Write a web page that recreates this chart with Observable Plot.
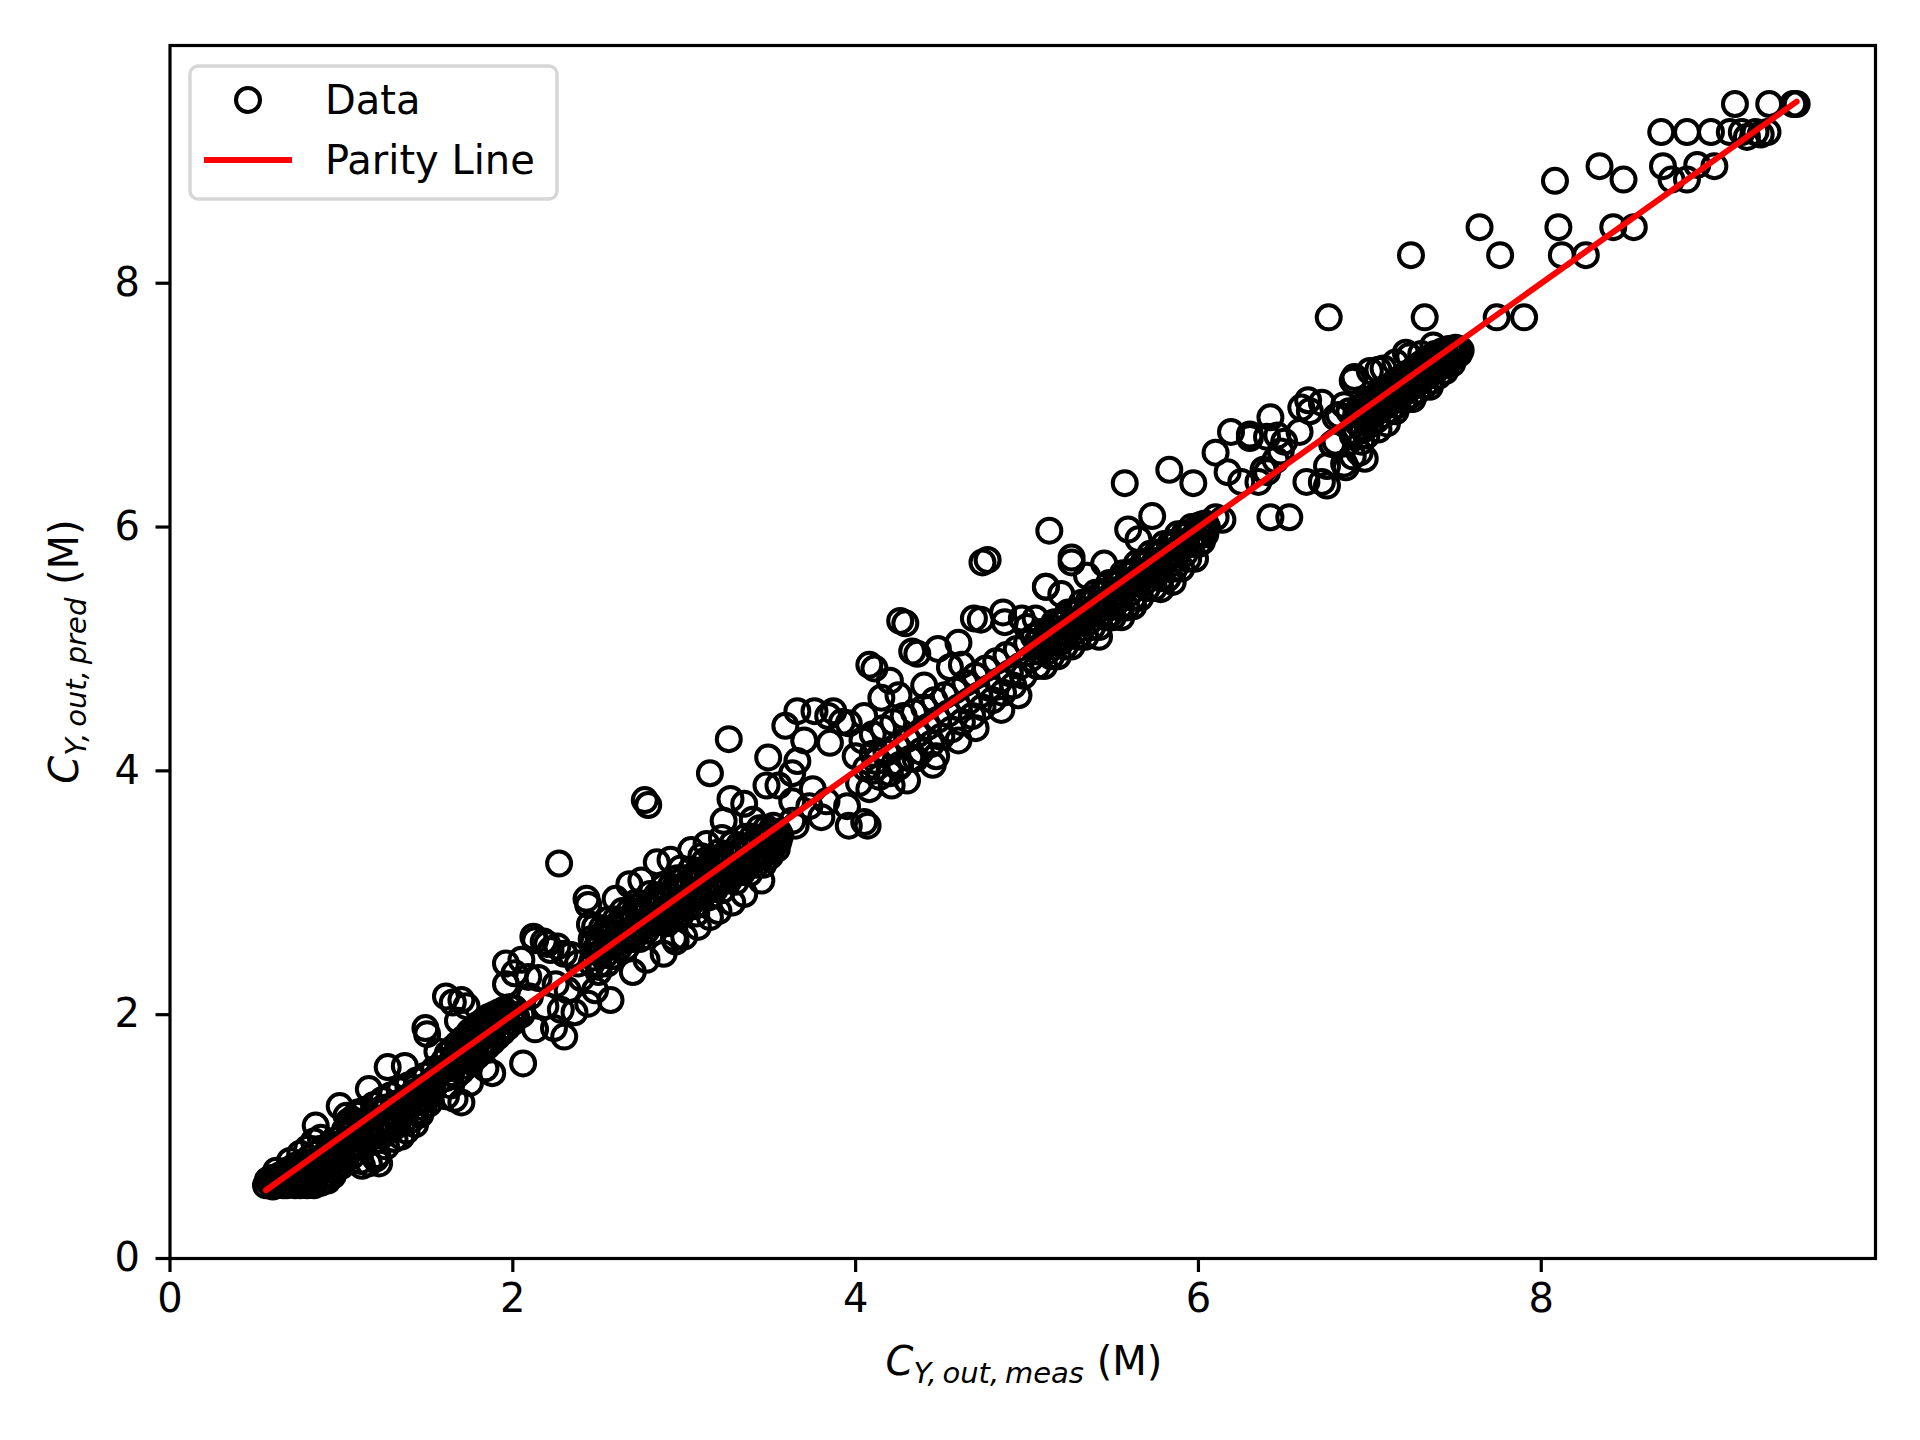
<!DOCTYPE html>
<html><head><meta charset="utf-8">
<script src="https://cdn.jsdelivr.net/npm/d3@7"></script>
<script src="https://cdn.jsdelivr.net/npm/@observablehq/plot@0.6"></script>
<style>html,body{margin:0;padding:0;background:#fff;overflow:hidden;} #chart{width:1920px;height:1440px;} #chart svg{display:block;}</style>
</head><body><div id="chart"></div>
<script>
const clusterLow = [[0.56,0.60],[0.58,0.62],[0.60,0.59],[0.61,0.65],[0.63,0.61],[0.64,0.68],[0.66,0.63],[0.67,0.70],[0.68,0.60],[0.69,0.66],[0.70,0.73],[0.71,0.62],[0.72,0.68],[0.73,0.76],[0.74,0.64],[0.75,0.71],[0.76,0.60],[0.77,0.78],[0.78,0.67],[0.79,0.73],[0.80,0.62],[0.81,0.82],[0.82,0.70],[0.83,0.76],[0.84,0.64],[0.85,0.86],[0.86,0.72],[0.87,0.80],[0.88,0.66],[0.89,0.90],[0.90,0.75],[0.91,0.84],[0.92,0.69],[0.93,0.93],[0.94,0.78],[0.95,0.87],[0.96,0.72],[0.97,0.97],[0.98,0.82],[0.99,0.91],[1.00,0.76],[0.62,0.72],[0.70,0.80],[0.76,0.86],[0.80,0.90],[0.84,0.96],[0.88,0.99],[0.66,0.60],[0.73,0.60],[0.80,0.60],[0.84,0.60],[0.88,0.62],[0.92,0.64],[0.95,0.68],[0.85,1.09],[0.99,1.25],
  [0.57,0.64],[0.59,0.66],[0.62,0.62],[0.64,0.64],[0.65,0.66],[0.67,0.65],[0.68,0.72],[0.70,0.68],[0.72,0.64],[0.73,0.71],[0.75,0.66],[0.76,0.74],[0.78,0.70],[0.79,0.64],[0.80,0.78],[0.82,0.74],[0.83,0.68],[0.85,0.80],[0.86,0.68],[0.87,0.76],[0.89,0.72],[0.90,0.84],[0.92,0.79],[0.93,0.74],[0.95,0.92],[0.96,0.82],[0.98,0.88],[0.99,0.78],[1.00,0.94]];
const clusterOne = [[1.01,0.95],[1.02,1.05],[1.03,0.88],[1.04,1.12],[1.05,0.98],[1.06,0.84],[1.07,1.08],[1.08,0.93],[1.09,1.18],[1.10,1.02],[1.11,0.80],[1.12,1.12],[1.13,0.97],[1.14,1.22],[1.15,1.06],[1.16,0.78],[1.17,1.16],[1.18,1.00],[1.19,1.26],[1.20,1.10],[1.21,0.85],[1.22,1.20],[1.23,1.04],[1.24,1.30],[1.25,1.14],[1.26,0.92],[1.27,1.24],[1.28,1.08],[1.29,1.34],[1.30,1.18],[1.31,0.98],[1.32,1.27],[1.33,1.12],[1.34,1.38],[1.35,1.00],[1.36,1.22],[1.37,1.31],[1.38,1.05],[1.39,1.42],[1.40,1.26],[1.41,1.14],[1.42,1.36],[1.43,1.10],[1.44,1.46],[1.45,1.30],[1.46,1.18],[1.47,1.40],[1.48,1.24],[1.49,1.50],[1.50,1.34],[1.51,1.27],[1.52,1.44],[1.53,1.38],[1.54,1.55],[1.12,0.76],[1.20,0.82],[1.22,0.78],[1.16,1.39],[1.27,1.57],[1.37,1.58],[1.03,1.17],[1.10,1.20],[1.06,1.14],
  [1.02,0.96],[1.05,1.02],[1.08,1.00],[1.11,1.06],[1.14,1.04],[1.17,1.10],[1.20,1.06],[1.23,1.14],[1.26,1.12],[1.29,1.20],[1.32,1.18],[1.35,1.26],[1.38,1.24],[1.41,1.30],[1.44,1.28],[1.47,1.36],[1.50,1.42],[1.53,1.46],[1.56,1.50],[1.07,0.90],[1.13,0.92],[1.19,0.96],[1.25,1.02],[1.31,1.08],[1.37,1.14],[1.43,1.20],[1.49,1.30]];
const clusterTwo = [[1.58,1.55],[1.60,1.62],[1.61,1.48],[1.62,1.68],[1.63,1.56],[1.64,1.42],[1.65,1.72],[1.66,1.60],[1.67,1.50],[1.68,1.76],[1.69,1.64],[1.70,1.54],[1.71,1.80],[1.72,1.68],[1.73,1.58],[1.74,1.84],[1.75,1.72],[1.76,1.62],[1.77,1.88],[1.78,1.76],[1.79,1.66],[1.80,1.92],[1.81,1.80],[1.82,1.70],[1.83,1.95],[1.84,1.84],[1.85,1.74],[1.86,1.98],[1.87,1.88],[1.88,1.78],[1.89,2.00],[1.90,1.91],[1.91,1.82],[1.92,2.02],[1.93,1.94],[1.94,1.86],[1.95,2.04],[1.96,1.97],[1.97,1.90],[1.98,2.06],[1.99,2.00],[2.00,1.94],[2.01,2.05],[2.02,1.98],[1.66,1.31],[1.61,1.33],[1.70,1.28],[1.75,1.44],[1.88,1.52],[2.06,1.60],[1.84,1.56],[1.50,1.84],[1.49,1.89],[1.61,2.15],[1.65,2.10],[1.70,2.12],[1.73,2.07],[1.75,1.86],[1.68,1.95],[1.56,1.70],
  [1.62,1.58],[1.66,1.66],[1.69,1.70],[1.72,1.74],[1.75,1.78],[1.78,1.82],[1.81,1.86],[1.84,1.90],[1.87,1.94],[1.90,1.97],[1.93,2.00],[1.96,2.02],[1.64,1.52],[1.70,1.62],[1.76,1.68],[1.82,1.76],[1.88,1.84],[1.94,1.90],[2.00,2.00]];
const sparseTwo = [[1.96,2.42],[2.01,2.34],[1.96,2.25],[2.09,2.31],[2.13,2.61],[2.20,2.58],[2.26,2.56],[2.30,2.50],[2.34,2.49],[2.27,3.24],[2.44,2.90],[2.13,1.88],[2.24,1.89],[2.19,2.07],[2.28,2.04],[2.36,2.02],[2.44,2.09],[2.57,2.12],[2.12,2.64],[2.18,2.60],[2.22,2.53],[2.43,2.95],[2.45,2.74],[2.05,2.45],[2.10,2.15],[2.32,2.20],[2.40,2.30],[2.38,2.42],[2.15,2.30],[2.25,2.25],[2.50,2.35],[2.48,2.20],[2.55,2.42],[2.30,1.82],[2.05,2.00]];
const clusterThree = [[2.46,2.42],[2.46,2.62],[2.48,2.53],[2.48,2.72],[2.50,2.41],[2.50,2.60],[2.52,2.52],[2.52,2.71],[2.54,2.49],[2.54,2.69],[2.56,2.59],[2.56,2.78],[2.58,2.48],[2.58,2.67],[2.60,2.59],[2.60,2.78],[2.62,2.55],[2.62,2.75],[2.64,2.66],[2.64,2.85],[2.66,2.55],[2.66,2.74],[2.68,2.66],[2.68,2.85],[2.70,2.62],[2.70,2.82],[2.72,2.73],[2.72,2.92],[2.74,2.62],[2.74,2.81],[2.76,2.72],[2.76,2.91],[2.78,2.69],[2.78,2.89],[2.80,2.80],[2.80,2.99],[2.82,2.68],[2.82,2.87],[2.84,2.79],[2.84,2.98],[2.86,2.76],[2.86,2.96],[2.88,2.86],[2.88,3.05],[2.90,2.75],[2.90,2.94],[2.92,2.86],[2.92,3.05],[2.94,2.83],[2.94,3.03],[2.96,2.93],[2.96,3.12],[2.98,2.82],[2.98,3.01],[3.00,2.93],[3.00,3.12],[3.02,2.89],[3.02,3.09],[3.04,3.00],[3.04,3.19],[3.06,2.89],[3.06,3.08],[3.08,2.99],[3.08,3.18],[3.10,2.96],[3.10,3.16],[3.12,3.07],[3.12,3.26],[3.14,2.96],[3.14,3.15],[3.16,3.06],[3.16,3.25],[3.18,3.03],[3.18,3.23],[3.20,3.14],[3.20,3.33],[3.22,3.02],[3.22,3.21],[3.24,3.13],[3.24,3.32],[3.26,3.10],[3.26,3.30],[3.28,3.21],[3.28,3.40],[3.30,3.09],[3.30,3.28],[3.32,3.20],[3.32,3.39],[3.34,3.17],[3.34,3.37],[3.36,3.27],[3.36,3.46],[3.38,3.16],[3.38,3.35],[3.40,3.27],[3.40,3.46],[3.42,3.23],[3.42,3.43],[3.44,3.34],[3.44,3.53],[3.46,3.23],[3.46,3.42],[3.48,3.34],[3.48,3.53],[3.50,3.30],[3.50,3.50],[3.52,3.41],[3.52,3.55],[3.54,3.36],[3.54,3.49],
  [2.47,2.47],[2.47,2.59],[2.51,2.50],[2.51,2.64],[2.55,2.55],[2.55,2.66],[2.59,2.57],[2.59,2.71],[2.63,2.60],[2.63,2.74],[2.67,2.64],[2.67,2.78],[2.71,2.67],[2.71,2.81],[2.75,2.71],[2.75,2.85],[2.79,2.74],[2.79,2.88],[2.83,2.77],[2.83,2.91],[2.87,2.81],[2.87,2.95],[2.91,2.84],[2.91,2.98],[2.95,2.88],[2.95,3.02],[2.99,2.91],[2.99,3.05],[3.03,2.94],[3.03,3.08],[3.07,2.98],[3.07,3.12],[3.11,3.01],[3.11,3.15],[3.15,3.05],[3.15,3.19],[3.19,3.08],[3.19,3.22],[3.23,3.11],[3.23,3.25],[3.27,3.15],[3.27,3.29],[3.31,3.18],[3.31,3.32],[3.35,3.22],[3.35,3.36],[3.39,3.25],[3.39,3.39],[3.43,3.28],[3.43,3.42],[3.47,3.32],[3.47,3.46],[3.51,3.35],[3.51,3.49],[3.55,3.42],[3.55,3.50],[3.53,3.45],[3.56,3.47]];
const sparseThree = [[2.68,3.07],[2.84,3.25],[2.92,3.27],[3.04,3.35],[3.13,3.40],[2.77,3.76],[2.79,3.72],[3.15,3.98],[3.26,4.26],[3.23,3.59],[3.27,3.77],[3.35,3.73],[3.48,3.88],[2.88,2.50],[3.00,2.64],[3.15,2.80],[3.35,2.99],[2.70,2.35],[2.78,2.45],[2.95,2.60],[3.08,2.72],[3.20,2.85],[3.28,2.92],[3.45,3.10],[2.60,2.95],[2.75,3.10],[2.98,3.20],[3.10,3.30],[3.22,3.45],[3.40,3.60],[3.07,2.83],[2.94,2.63]];
const clusterFour = [[4.00,4.12],[4.02,3.90],[4.04,4.25],[4.06,4.02],[4.08,3.85],[4.10,4.30],[4.12,4.08],[4.14,3.95],[4.16,4.35],[4.18,4.15],[4.20,3.98],[4.22,4.40],[4.24,4.20],[4.26,4.05],[4.28,4.45],[4.30,4.26],[4.32,4.10],[4.34,4.48],[4.36,4.30],[4.38,4.16],[4.40,4.52],[4.42,4.36],[4.44,4.22],[4.46,4.58],[4.48,4.42],[4.50,4.28],[4.52,4.62],[4.54,4.47],[4.56,4.34],[4.58,4.66],[4.60,4.52],[4.62,4.40],[4.64,4.72],[4.66,4.57],[4.68,4.45],[4.70,4.78],[4.72,4.62],[4.74,4.52],[4.76,4.84],[4.78,4.68],[4.80,4.58],[4.82,4.90],[4.84,4.74],[4.86,4.64],[4.88,4.95],[4.90,4.80],[4.92,4.70],[4.94,5.00],[4.96,4.86],[4.98,4.78],[5.00,5.05],[5.02,4.92],[5.04,5.10],[5.06,4.98],[4.15,4.60],[4.05,4.45],[4.25,4.62],[4.40,4.70],[4.55,4.85],[4.45,4.05],[4.60,4.25],[4.70,4.35],[4.85,4.50],[4.95,4.62],[4.30,3.92],[4.21,3.88]];
const sparseFour = [[4.74,5.71],[5.26,5.71],[4.26,5.23],[5.11,5.51],[4.69,5.25],[4.86,5.30],[4.87,5.22],[4.97,5.25],[4.08,4.87],[4.33,4.98],[4.20,4.74],[4.48,5.00],[4.60,5.05],[4.62,4.87],[3.66,4.49],[3.59,4.37],[3.76,4.49],[3.84,4.45],[3.92,4.40],[3.70,4.25],[3.49,4.11],[3.63,3.98],[3.55,3.88],[3.63,3.75],[3.63,3.59],[3.83,3.75],[4.05,3.58],[3.80,3.62],[3.75,3.85],[4.10,4.00],[4.25,4.03],[4.35,4.10],[4.47,4.12],[3.85,4.23],[3.96,4.39],[3.87,4.49],[4.10,4.14],[3.95,3.71],[3.96,3.55],[4.07,3.55],[3.73,3.71],[3.65,3.55],[3.66,4.08],[4.11,4.84],[4.29,5.21],[4.36,4.96],[4.73,5.24],[4.77,5.73]];
const clusterFive = [[5.06,4.86],[5.06,5.06],[5.08,4.98],[5.08,5.14],[5.10,4.86],[5.10,5.05],[5.12,4.98],[5.12,5.15],[5.14,4.94],[5.14,5.14],[5.16,5.06],[5.16,5.22],[5.18,4.94],[5.18,5.13],[5.20,5.06],[5.20,5.23],[5.22,5.02],[5.22,5.22],[5.24,5.14],[5.24,5.30],[5.26,5.02],[5.26,5.21],[5.28,5.14],[5.28,5.31],[5.30,5.10],[5.30,5.30],[5.32,5.22],[5.32,5.38],[5.34,5.10],[5.34,5.29],[5.36,5.22],[5.36,5.39],[5.38,5.18],[5.38,5.38],[5.40,5.30],[5.40,5.46],[5.42,5.18],[5.42,5.37],[5.44,5.30],[5.44,5.47],[5.46,5.26],[5.46,5.46],[5.48,5.38],[5.48,5.54],[5.50,5.26],[5.50,5.45],[5.52,5.38],[5.52,5.55],[5.54,5.34],[5.54,5.54],[5.56,5.46],[5.56,5.62],[5.58,5.34],[5.58,5.53],[5.60,5.46],[5.60,5.63],[5.62,5.42],[5.62,5.62],[5.64,5.54],[5.64,5.70],[5.66,5.42],[5.66,5.61],[5.68,5.54],[5.68,5.71],[5.70,5.50],[5.70,5.70],[5.72,5.62],[5.72,5.78],[5.74,5.50],[5.74,5.69],[5.76,5.62],[5.76,5.79],[5.78,5.58],[5.78,5.78],[5.80,5.70],[5.80,5.86],[5.82,5.58],[5.82,5.77],[5.84,5.70],[5.84,5.87],[5.86,5.66],[5.86,5.86],[5.88,5.78],[5.88,5.94],[5.90,5.66],[5.90,5.85],[5.92,5.78],[5.92,5.95],[5.94,5.74],[5.94,5.94],[5.96,5.86],[5.96,6.00],[5.98,5.74],[5.98,5.93],[6.00,5.86],[6.00,6.01],[6.02,5.88],[6.02,6.02],[6.04,5.94],[6.04,6.03],
  [5.09,5.02],[5.13,5.06],[5.17,5.12],[5.21,5.14],[5.25,5.20],[5.29,5.22],[5.33,5.28],[5.37,5.30],[5.41,5.36],[5.45,5.38],[5.49,5.44],[5.53,5.46],[5.57,5.52],[5.61,5.54],[5.65,5.60],[5.69,5.62],[5.73,5.68],[5.77,5.70],[5.81,5.76],[5.85,5.78],[5.89,5.84],[5.93,5.86],[5.97,5.92],[6.01,5.95],[6.05,6.00]];
const sparseFive = [[5.13,5.97],[5.26,5.75],[5.11,5.51],[5.57,6.36],[5.83,6.47],[5.97,6.36],[5.59,5.98],[5.73,6.09],[6.10,6.08],[5.55,5.26],[5.48,5.28],[5.62,5.35],[5.78,5.49],[5.85,5.55],[5.20,5.45],[5.35,5.60],[5.45,5.70],[5.65,5.90],[5.05,5.25],[5.00,5.18],[5.30,5.11],[5.42,5.10],[5.18,5.05],[6.14,6.06]];
const sparseSix = [[6.42,6.08],[6.53,6.08],[6.25,6.37],[6.35,6.37],[6.63,6.37],[6.72,6.37],[6.10,6.61],[6.17,6.45],[6.19,6.78],[6.30,6.76],[6.40,6.74],[6.42,6.90],[6.60,6.98],[6.72,7.02],[6.40,6.45],[6.45,6.55],[6.50,6.70],[6.48,6.62],[6.75,6.50],[6.85,6.52],[6.90,6.58],[6.97,6.56],[6.80,6.70],[6.90,6.75],[6.95,6.82],[6.82,6.92],[6.88,6.95],[6.96,6.93],[6.30,6.73],[6.46,6.75],[6.59,6.78],[6.65,6.95],[6.38,6.47],[6.75,6.34],[6.86,6.49],[6.94,6.61],[6.78,6.68],[6.98,6.75]];
const clusterSeven = [[6.92,6.78],[6.92,6.92],[6.94,6.86],[6.94,6.98],[6.96,6.80],[6.96,6.95],[6.98,6.88],[6.98,7.02],[7.00,6.84],[7.00,7.00],[7.02,6.92],[7.02,7.06],[7.04,6.88],[7.04,7.04],[7.06,6.96],[7.06,7.10],[7.08,6.92],[7.08,7.08],[7.10,7.00],[7.10,7.14],[7.12,6.96],[7.12,7.12],[7.14,7.04],[7.14,7.18],[7.16,7.00],[7.16,7.16],[7.18,7.08],[7.18,7.22],[7.20,7.04],[7.20,7.20],[7.22,7.12],[7.22,7.26],[7.24,7.08],[7.24,7.24],[7.26,7.16],[7.26,7.30],[7.28,7.12],[7.28,7.28],[7.30,7.20],[7.30,7.34],[7.32,7.16],[7.32,7.32],[7.34,7.24],[7.34,7.38],[7.36,7.20],[7.36,7.36],[7.38,7.28],[7.38,7.42],[7.40,7.24],[7.40,7.40],[7.42,7.32],[7.42,7.44],[7.44,7.28],[7.44,7.43],[7.46,7.36],[7.46,7.46],[7.48,7.34],[7.48,7.45],[7.50,7.40],[7.50,7.47],[7.52,7.42],[7.52,7.46],[6.64,7.04],[6.91,7.23],[7.05,7.29],[7.21,7.43],[7.37,7.49],[7.49,7.45],[6.90,7.20],[7.00,7.28],[7.08,7.30],[7.15,7.35],[7.23,7.40],[7.30,7.42],[6.80,6.90],[6.85,7.00],[7.05,6.80],[7.15,6.95],[7.25,7.05],[7.35,7.15],[6.95,6.70],[7.10,6.85],
  [6.93,6.85],[6.97,6.90],[7.01,6.94],[7.05,6.98],[7.09,7.02],[7.13,7.06],[7.17,7.10],[7.21,7.14],[7.25,7.18],[7.29,7.22],[7.33,7.26],[7.37,7.30],[7.41,7.34],[7.45,7.38],[7.49,7.42],[7.53,7.45]];
const sparseHigh = [[9.47,9.47],[9.49,9.47],[9.13,9.47],[9.33,9.47],[8.70,9.24],[8.85,9.24],[8.99,9.24],[9.10,9.24],[9.17,9.24],[9.25,9.24],[9.32,9.24],[9.20,9.20],[9.28,9.22],[8.71,8.96],[8.91,8.97],[9.01,8.96],[8.76,8.85],[8.85,8.85],[8.34,8.96],[8.48,8.85],[8.08,8.84],[7.64,8.46],[8.10,8.46],[8.42,8.46],[8.54,8.46],[7.24,8.23],[7.76,8.23],[8.12,8.23],[8.26,8.23],[6.76,7.72],[7.32,7.72],[7.74,7.72],[7.90,7.72]];

const parityRange = [0.56, 9.49];
const xTicks = [0, 2, 4, 6, 8];
const yTicks = [0, 2, 4, 6, 8];

const points = [].concat(clusterLow, clusterOne, clusterTwo, sparseTwo, clusterThree, sparseThree,
  clusterFour, sparseFour, clusterFive, sparseFive, sparseSix, clusterSeven, sparseHigh)
  .map(([meas, pred]) => ({meas, pred}));
const parity = parityRange.map(v => ({meas: v, pred: v}));

const FS = 40;
const chart = Plot.plot({
  width: 1920, height: 1440,
  marginLeft: 169.5, marginRight: 45, marginTop: 45, marginBottom: 182,
  style: {fontFamily: "DejaVu Sans", fontSize: FS + "px", background: "white", color: "black"},
  x: {domain: [0, 9.95]},
  y: {domain: [0, 9.95]},
  marks: [
    Plot.dot(points, {x: "meas", y: "pred", r: 12, stroke: "black", strokeWidth: 4, fill: "none"}),
    Plot.line(parity, {x: "meas", y: "pred", stroke: "red", strokeWidth: 6}),
    Plot.frame({stroke: "black", strokeWidth: 3.2}),
    Plot.axisX({ticks: xTicks, tickSize: 14, tickPadding: 11, strokeWidth: 3.2, label: null, fontSize: FS}),
    Plot.axisY({ticks: yTicks, tickSize: 14, tickPadding: 16, strokeWidth: 3.2, label: null, fontSize: FS})
  ]
});
document.getElementById("chart").appendChild(chart);

const svg = d3.select(chart);
// x axis label
const xl = svg.append("text").attr("x", 1024).attr("y", 1375).attr("text-anchor", "middle")
  .attr("font-family", "DejaVu Sans").attr("font-size", FS).attr("fill", "black");
xl.append("tspan").attr("font-style", "italic").text("C");
xl.append("tspan").attr("font-style", "italic").attr("font-size", 29).attr("dy", 8).text("Y,\u2009out,\u2009meas");
xl.append("tspan").attr("dy", -8).text("\u00a0(M)");
// y axis label
const yl = svg.append("text").attr("transform", "translate(78,651.5) rotate(-90)").attr("text-anchor", "middle")
  .attr("font-family", "DejaVu Sans").attr("font-size", FS).attr("fill", "black");
yl.append("tspan").attr("font-style", "italic").text("C");
yl.append("tspan").attr("font-style", "italic").attr("font-size", 29).attr("dy", 8).text("Y,\u2009out,\u2009pred");
yl.append("tspan").attr("dy", -8).text("\u00a0(M)");
// legend
const lg = svg.append("g").attr("text-anchor", "start");
lg.append("rect").attr("x", 190).attr("y", 66).attr("width", 367).attr("height", 133).attr("rx", 8)
  .attr("fill", "white").attr("fill-opacity", 0.8).attr("stroke", "#d6d6d6").attr("stroke-width", 3.4);
lg.append("circle").attr("cx", 248).attr("cy", 100).attr("r", 12).attr("fill", "none")
  .attr("stroke", "black").attr("stroke-width", 4);
lg.append("text").attr("x", 325).attr("y", 114).attr("text-anchor", "start").attr("font-family", "DejaVu Sans").attr("font-size", FS).text("Data");
lg.append("line").attr("x1", 204).attr("x2", 292).attr("y1", 160).attr("y2", 160)
  .attr("stroke", "red").attr("stroke-width", 6);
lg.append("text").attr("x", 325).attr("y", 174).attr("text-anchor", "start").attr("font-family", "DejaVu Sans").attr("font-size", FS).text("Parity Line");
</script>
</body></html>
